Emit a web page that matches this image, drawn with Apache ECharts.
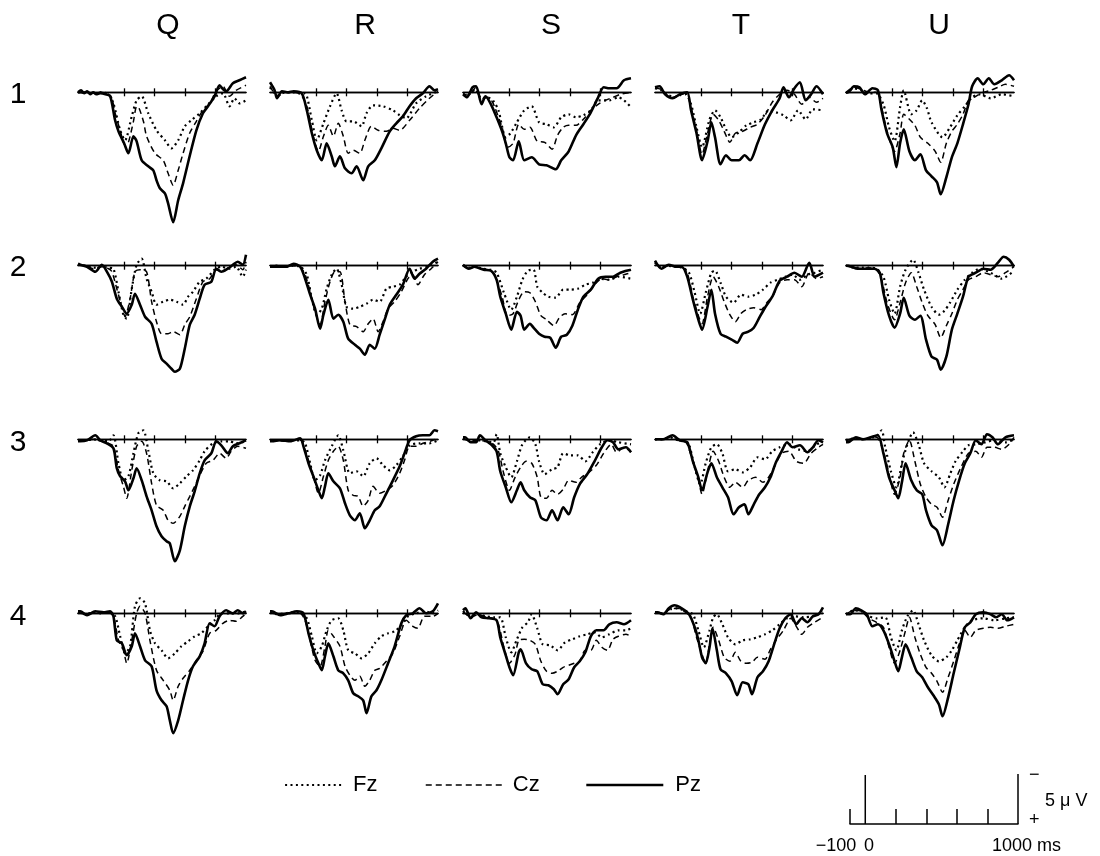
<!DOCTYPE html>
<html>
<head>
<meta charset="utf-8">
<script src="https://cdn.jsdelivr.net/npm/echarts@6/dist/echarts.min.js"></script>
<style>
  html, body { margin: 0; padding: 0; background: #ffffff; }
  #chart { width: 1100px; height: 856px; }
</style>
</head>
<body>
<div id="chart"></div>
<script>
// Grand-average ERP waveforms: 4 blocks x 5 conditions, electrodes Fz / Cz / Pz.
// Time in ms (-100 .. 1000), amplitude in microvolts (negative plotted upward).
const conditions = ['Q', 'R', 'S', 'T', 'U'];
const blocks = ['1', '2', '3', '4'];
const electrodes = ['Fz', 'Cz', 'Pz'];
const baselineTicks = [200, 400, 600, 800];
const scaleTicks = [-100, 200, 400, 600, 800];

// ---- block 1 ----
const Q1_Pz = [[-100,0],[-80,-0.2],[-60,0.1],[-40,-0.1],[-20,0.2],[0,0],[20,0.2],[46,0.1],[80,0.2],[111,0.4],[143,2.8],[165,3.9],[202,5.1],[230,6.1],[263,4.4],[284,4.9],[317,6.8],[360,7.4],[393,7.8],[414,8.8],[436,9.6],[469,10.1],[490,11.1],[523,13.0],[556,10.8],[588,9.1],[631,6.4],[675,3.8],[718,2.1],[751,1.4],[794,0.4],[827,-0.7],[850,-0.3],[870,-0.1],[914,-0.9],[957,-1.2],[1000,-1.5]];
const Q1_Cz = [[-100,0],[-50,0.1],[0,0.1],[50,0],[100,0.2],[122,0.6],[143,2.1],[176,3.8],[208,5.3],[230,5.0],[263,2.9],[284,1.4],[300,1.6],[330,3.0],[349,4.4],[404,6.1],[458,6.8],[490,8.1],[523,9.3],[556,7.8],[588,6.1],[631,4.1],[675,2.9],[718,1.8],[762,1.1],[805,-0.1],[849,-0.6],[892,0.4],[935,-0.2],[1000,-0.7]];
const Q1_Fz = [[-100,0],[-50,0],[0,0.1],[50,0],[100,0.2],[132,1.1],[176,3.8],[208,4.8],[252,2.4],[284,0.8],[317,0.4],[360,2.1],[414,3.8],[469,4.8],[512,5.6],[556,4.8],[599,3.4],[642,2.8],[697,2.1],[740,1.4],[805,0.4],[849,0.1],[892,1.4],[925,0.6],[957,1.1],[1000,0.8]];

const R1_Pz = [[-100,-1.0],[-70,-0.2],[-54,0.6],[-22,-0.1],[20,0],[54,-0.1],[108,0.1],[141,1.8],[174,4.1],[206,5.8],[239,6.8],[271,5.1],[304,6.4],[325,7.4],[358,6.4],[391,7.6],[434,8.1],[467,7.4],[510,8.8],[543,7.4],[586,6.8],[629,5.6],[684,3.9],[727,3.1],[770,2.4],[814,1.4],[857,0.6],[901,0.1],[944,-0.6],[977,-0.2],[1000,-0.3]];
const R1_Cz = [[-100,-0.6],[-50,0.4],[0,0],[50,0],[100,0.2],[141,1.4],[184,4.4],[217,5.9],[250,4.4],[282,3.3],[315,4.4],[347,3.1],[380,4.4],[412,6.1],[445,5.8],[488,6.1],[521,4.8],[564,3.4],[608,3.8],[662,3.9],[705,3.6],[749,3.8],[814,2.8],[879,1.6],[944,0.6],[1000,-0.1]];
const R1_Fz = [[-100,-0.5],[-50,0.3],[0,0],[50,0],[100,0.1],[130,0.1],[174,2.8],[206,4.8],[250,3.1],[293,1.4],[336,0.1],[369,1.8],[401,2.9],[445,2.9],[499,3.4],[532,2.1],[575,1.3],[640,1.4],[705,1.8],[749,2.3],[792,2.6],[857,1.1],[922,0.4],[1000,-0.1]];

const S1_Pz = [[-100,0.2],[-74,0.5],[-38,-0.5],[-14,-0.6],[22,1.2],[47,0.4],[83,1.2],[120,2.5],[156,3.9],[180,5.1],[204,6.5],[228,6.8],[265,4.9],[301,6.8],[350,6.5],[398,7.2],[447,7.3],[507,7.7],[543,6.8],[592,5.9],[640,4.3],[688,3.2],[737,2.0],[785,0.5],[821,-0.5],[858,-0.4],[906,-0.4],[954,-1.2],[1000,-1.4]];
const S1_Cz = [[-100,0.2],[-60,0.3],[-20,-0.4],[20,0.7],[60,0.5],[90,0.9],[108,1.5],[156,3.5],[192,5.5],[228,5.1],[265,3.2],[301,3.7],[338,3.5],[386,4.9],[435,5.0],[483,5.7],[519,4.3],[556,3.5],[592,3.3],[640,3.3],[688,2.7],[737,1.8],[785,1.2],[833,0.8],[882,0.5],[930,0.2],[1000,0]];
const S1_Fz = [[-100,0.2],[-60,0.2],[-20,-0.3],[20,0.6],[60,0.5],[100,0.9],[132,1.8],[180,4.5],[210,4.1],[253,3.0],[301,1.8],[350,1.4],[398,3.0],[447,3.2],[495,3.5],[543,2.5],[592,2.2],[640,2.5],[688,2.3],[737,1.8],[785,0.8],[858,0.8],[918,0.5],[954,0.8],[1000,1.5]];

const T1_Pz = [[-100,-0.5],[-70,-0.6],[-34,0.2],[15,0.6],[63,0.2],[111,0],[136,1.8],[172,4.1],[208,6.8],[244,4.9],[269,3.0],[293,4.5],[329,7.2],[365,6.3],[402,6.8],[450,6.8],[486,6.3],[523,6.8],[571,5.1],[620,3.2],[668,1.8],[716,0.6],[741,-0.5],[777,0.5],[813,-0.4],[849,-1.0],[886,0.8],[922,0.2],[958,-0.6],[1000,0.2]];
const T1_Cz = [[-100,-0.4],[-60,-0.3],[-20,0.3],[20,0.5],[60,0.3],[100,0.1],[136,1.5],[172,3.9],[208,6.2],[244,4.1],[281,2.2],[317,2.8],[353,3.9],[390,5.0],[426,4.1],[474,3.9],[523,3.5],[571,3.2],[620,2.3],[668,1.0],[716,0.2],[765,-0.2],[813,0.2],[861,1.2],[910,0.5],[958,1.0],[1000,0.6]];
const T1_Fz = [[-100,-0.4],[-60,-0.2],[-20,0.2],[20,0.5],[60,0.3],[100,0.2],[136,1.2],[172,3.5],[208,5.5],[257,2.7],[293,1.8],[329,2.5],[365,3.7],[402,4.5],[450,4.0],[498,3.3],[547,3.0],[595,2.7],[644,1.8],[692,2.0],[741,2.3],[789,2.8],[837,1.8],[886,2.7],[934,1.7],[1000,1.8]];

const U1_Pz = [[-100,0],[-85,0],[-48,-0.6],[-12,-0.5],[24,0.2],[73,-0.4],[109,-0.2],[133,1.8],[169,4.1],[206,5.5],[230,7.5],[254,5.1],[278,3.7],[315,5.9],[351,6.8],[387,6.2],[424,7.8],[460,8.4],[496,9.0],[520,10.2],[557,8.5],[593,6.5],[629,5.1],[666,3.2],[702,1.2],[726,-0.6],[762,-1.4],[799,-0.8],[835,-1.4],[871,-0.8],[920,-1.2],[968,-1.7],[1000,-1.2]];
const U1_Cz = [[-100,0],[-50,-0.5],[0,-0.3],[50,0],[100,0],[133,1.5],[169,3.9],[218,5.9],[254,4.1],[278,2.2],[315,2.7],[351,3.3],[387,4.5],[436,5.1],[484,5.9],[520,7.0],[557,5.1],[593,3.9],[629,3.2],[666,2.2],[702,0.8],[750,0.4],[799,0],[847,-0.2],[895,-0.5],[944,-0.8],[1000,-0.6]];
const U1_Fz = [[-100,0.1],[-50,-0.4],[0,-0.2],[50,0.1],[100,0.1],[145,1.2],[182,3.5],[218,4.9],[254,1.5],[278,-0.2],[327,2.2],[363,1.8],[399,0.8],[430,1.6],[460,3.0],[532,4.5],[581,3.5],[629,2.3],[678,1.4],[726,0.5],[775,0.2],[847,0.6],[920,0.2],[1000,0.4]];

// ---- block 2 ----
const Q2_Pz = [[-100,-0.2],[-85,-0.1],[-41,0.1],[13,0.6],[56,-0.1],[89,0.6],[122,1.6],[154,3.3],[187,4.1],[219,4.8],[252,3.9],[273,2.8],[306,3.9],[339,5.1],[382,5.8],[414,7.6],[447,9.3],[480,9.8],[512,10.3],[534,10.6],[567,10.3],[599,8.3],[632,5.9],[664,4.9],[697,3.3],[729,1.9],[773,1.6],[805,0.3],[838,0.6],[881,0.3],[914,-0.1],[946,-0.4],[979,-0.1],[1000,-1.1]];
const Q2_Cz = [[-100,-0.1],[-50,0],[0,0.3],[50,0.1],[100,0.3],[122,0.6],[154,2.3],[187,4.1],[208,5.1],[241,3.3],[273,0.6],[306,0.4],[349,0.6],[382,3.6],[414,5.6],[447,6.8],[490,6.8],[523,6.6],[567,6.9],[599,5.9],[632,5.1],[675,3.3],[718,1.6],[762,1.3],[805,0.4],[849,0.6],[892,0.1],[935,-0.1],[979,0.4],[1000,-0.4]];
const Q2_Fz = [[-100,-0.1],[-50,0],[0,0.2],[50,0.1],[100,0.2],[132,0.3],[165,2.6],[197,4.9],[219,5.3],[252,2.3],[284,-0.1],[317,-0.7],[349,1.3],[382,2.6],[414,3.9],[458,3.6],[501,3.4],[545,3.6],[588,3.9],[621,3.1],[653,2.6],[697,1.6],[740,1.3],[794,0.4],[838,0.1],[892,0.3],[935,0.1],[979,1.1],[1000,0.4]];

const R2_Pz = [[-100,0.1],[-87,0.1],[-43,0.1],[11,0.1],[54,-0.2],[98,0.1],[130,1.3],[163,2.9],[195,4.3],[228,6.3],[250,4.9],[282,3.4],[315,5.3],[347,4.9],[380,5.6],[412,7.3],[456,7.9],[488,8.3],[521,8.9],[553,7.9],[586,8.3],[618,6.9],[651,5.4],[684,3.9],[727,2.9],[770,1.9],[814,0.3],[846,1.3],[879,0.8],[922,0.3],[966,-0.4],[1000,-0.7]];
const R2_Cz = [[-100,0.1],[-50,0.1],[0,0.1],[50,0],[100,0.2],[130,0.9],[163,2.6],[195,4.6],[228,5.9],[260,3.6],[293,1.6],[325,0.6],[358,0.6],[391,3.6],[423,5.9],[467,6.1],[510,6.6],[543,5.8],[575,5.3],[608,6.6],[640,5.6],[673,4.3],[716,3.6],[760,2.6],[803,1.3],[835,0.9],[868,1.9],[911,0.9],[955,0.3],[1000,-0.4]];
const R2_Fz = [[-100,0.1],[-50,0],[0,0.1],[50,0],[100,0.1],[141,0.9],[174,3.3],[206,4.9],[239,4.3],[271,2.3],[304,0.9],[336,0.3],[369,1.9],[401,4.1],[445,4.3],[488,4.1],[532,3.8],[575,3.4],[618,3.6],[662,2.3],[705,2.1],[749,1.9],[792,1.1],[835,0.6],[879,0.3],[933,0.1],[1000,-0.4]];

const S2_Pz = [[-100,-0.1],[-62,0.3],[-26,0.1],[35,0.4],[83,0.5],[120,1.4],[144,3.1],[180,4.8],[216,6.4],[253,4.6],[277,5.0],[301,6.4],[338,5.8],[362,6.2],[398,6.8],[434,7.1],[471,7.2],[507,8.2],[543,7.1],[580,6.9],[616,6.0],[652,4.4],[688,3.1],[737,2.4],[785,1.3],[833,1.1],[882,1.1],[930,0.7],[1000,0.4]];
const S2_Cz = [[-100,0],[-60,0.3],[-20,0.1],[30,0.3],[80,0.5],[108,0.9],[156,3.1],[192,5.0],[228,4.8],[265,3.4],[301,2.6],[338,2.7],[374,3.6],[410,5.0],[447,5.4],[495,6.0],[531,5.2],[568,4.8],[616,4.9],[664,3.7],[713,2.9],[761,1.9],[809,1.3],[858,1.4],[906,1.1],[954,0.9],[1000,0.7]];
const S2_Fz = [[-100,0],[-60,0.2],[-20,0.1],[30,0.3],[80,0.4],[120,0.7],[168,2.7],[216,4.4],[253,3.1],[289,1.4],[325,0.5],[362,0.4],[386,2.1],[422,2.7],[459,3.1],[507,3.2],[556,2.4],[604,2.4],[652,2.3],[701,1.9],[749,1.7],[797,1.3],[858,1.4],[918,1.1],[1000,1.3]];

const T2_Pz = [[-100,-0.5],[-58,0.3],[-10,-0.1],[39,0.1],[75,0.1],[111,1.1],[148,3.4],[184,5.4],[208,6.4],[244,4.1],[269,2.4],[293,4.8],[329,6.8],[365,7.1],[402,7.4],[438,7.7],[474,6.8],[511,6.6],[547,6.2],[583,5.2],[620,4.2],[668,3.1],[716,1.5],[765,1.1],[813,0.7],[861,1.1],[910,-0.3],[946,1.1],[1000,0.7]];
const T2_Cz = [[-100,-0.4],[-60,0.2],[-20,0],[30,0.1],[80,0.2],[111,0.7],[148,3.1],[184,5.0],[208,5.8],[244,3.1],[281,1.1],[317,2.1],[353,3.6],[390,4.9],[426,5.6],[462,4.8],[498,4.4],[547,4.2],[595,4.4],[632,3.7],[668,3.1],[716,1.7],[765,1.4],[813,1.4],[861,2.1],[910,0.7],[958,1.3],[1000,1.1]];
const T2_Fz = [[-100,-0.3],[-60,0.2],[-20,0],[30,0.1],[80,0.2],[123,0.7],[160,2.7],[196,4.8],[232,2.7],[269,0.7],[293,0.5],[329,1.7],[365,3.1],[414,3.7],[462,2.9],[511,3.1],[559,2.9],[607,2.4],[656,1.7],[704,1.4],[753,1.1],[801,0.9],[849,1.4],[898,0.9],[946,0.7],[1000,0.4]];

const U2_Pz = [[-100,0],[-85,0],[-24,0.3],[24,0.3],[85,0.3],[121,0.7],[145,2.7],[182,5.0],[218,6.2],[254,4.8],[278,3.2],[315,5.0],[351,5.4],[387,5.0],[424,7.4],[460,9.1],[496,9.4],[520,10.4],[557,9.1],[593,6.4],[629,4.8],[666,3.1],[702,1.1],[750,0.7],[799,0.3],[847,0.4],[895,-0.3],[932,-0.9],[968,-0.6],[1000,0.1]];
const U2_Cz = [[-100,0],[-50,0.2],[0,0.3],[50,0.2],[100,0.4],[133,1.4],[169,3.7],[218,5.4],[254,3.7],[290,1.7],[327,0.7],[363,2.1],[399,3.7],[436,5.0],[484,5.9],[520,7.2],[557,6.0],[593,4.8],[629,3.4],[666,2.4],[702,1.4],[750,1.1],[799,0.7],[847,0.9],[895,1.1],[944,0.7],[1000,0.1]];
const U2_Fz = [[-100,0],[-50,0.2],[0,0.2],[50,0.2],[100,0.3],[145,1.1],[182,3.4],[218,4.8],[254,2.1],[290,0.4],[339,-0.6],[375,0.7],[411,2.4],[460,4.1],[508,4.9],[545,4.5],[581,3.7],[629,2.4],[678,1.4],[726,0.7],[775,0.3],[847,0.7],[920,1.3],[1000,0.5]];

// ---- block 3 ----
const Q3_Pz = [[-100,0.2],[-85,0.2],[-41,0.1],[13,-0.4],[46,0.1],[89,0.4],[132,0.9],[154,2.9],[176,3.7],[208,4.2],[230,5.1],[263,3.9],[284,2.9],[317,4.1],[349,5.7],[382,7.1],[414,8.7],[447,9.7],[480,10.2],[501,10.4],[534,12.2],[567,11.1],[599,8.7],[632,6.7],[664,5.2],[697,3.4],[729,2.1],[773,1.4],[805,0.2],[838,0.6],[881,1.4],[914,0.7],[957,0.4],[1000,0.1]];
const Q3_Cz = [[-100,0.2],[-50,0.1],[0,0],[50,0.2],[100,0.4],[132,0.7],[165,3.1],[197,4.7],[219,5.9],[252,3.1],[284,0.7],[317,0.2],[349,1.4],[382,4.4],[414,6.6],[458,7.1],[490,8.1],[523,8.4],[567,7.7],[599,6.7],[632,5.7],[664,4.7],[697,3.6],[740,2.4],[784,2.1],[827,1.4],[870,1.9],[903,1.2],[946,0.7],[1000,0.9]];
const Q3_Fz = [[-100,0.1],[-50,0.1],[0,0],[50,0.1],[100,0.2],[132,-0.4],[165,2.4],[197,4.1],[230,3.7],[263,1.4],[295,-0.6],[328,-0.9],[360,1.1],[393,3.4],[436,4.1],[480,4.2],[523,4.9],[567,4.4],[610,3.7],[653,3.1],[697,2.1],[729,1.2],[784,0.4],[838,0.2],[892,0.2],[935,0.4],[1000,0.2]];

const R3_Pz = [[-100,0.2],[-87,0.2],[-33,0.1],[33,0.2],[98,-0.1],[119,0.7],[152,2.4],[184,3.7],[217,5.1],[239,5.9],[260,4.7],[282,3.4],[315,4.2],[358,4.9],[391,6.4],[423,7.6],[456,8.1],[488,7.4],[521,8.9],[553,8.1],[586,7.1],[618,6.7],[662,5.4],[705,4.1],[749,2.7],[781,1.4],[814,0.1],[857,-0.3],[901,-0.4],[944,-0.4],[977,-0.9],[1000,-0.8]];
const R3_Cz = [[-100,0.2],[-50,0.1],[0,0.2],[50,0.1],[100,0.1],[119,0.6],[152,2.1],[184,3.7],[217,5.4],[250,3.7],[282,2.1],[315,1.2],[347,0.7],[380,2.1],[412,5.1],[445,5.6],[477,5.7],[510,6.7],[543,6.1],[575,4.7],[618,5.4],[662,5.1],[705,4.6],[749,3.4],[781,2.1],[814,0.7],[857,0.7],[901,0.4],[966,0.1],[1000,-0.1]];
const R3_Fz = [[-100,0.1],[-50,0.1],[0,0.1],[50,0.1],[100,0.1],[130,0.4],[163,2.4],[195,4.1],[228,3.6],[260,2.1],[304,0.7],[347,-0.4],[380,1.1],[423,3.4],[467,3.2],[510,3.7],[553,2.4],[597,1.9],[640,2.6],[684,3.1],[727,2.6],[770,1.7],[814,0.6],[879,0.4],[944,0.4],[1000,0.1]];

const S3_Pz = [[-100,-0.2],[-86,-0.2],[-50,0.3],[-14,0.3],[11,-0.4],[47,0.1],[83,0.5],[120,1.2],[144,3.2],[180,4.8],[216,6.3],[253,5.1],[277,4.3],[301,5.1],[338,5.8],[374,6.1],[410,7.8],[447,8.1],[483,7.1],[519,8.1],[556,6.8],[592,7.5],[628,5.8],[664,4.5],[713,3.5],[761,2.2],[809,0.8],[846,0.1],[882,0.3],[918,1.0],[967,0.8],[1000,1.3]];
const S3_Cz = [[-100,-0.1],[-50,0.2],[0,0.1],[50,0.2],[100,0.5],[132,1.2],[168,3.5],[204,5.1],[241,3.8],[277,2.8],[313,2.2],[350,2.4],[386,3.8],[410,5.8],[447,5.9],[483,5.1],[519,5.5],[556,5.0],[592,4.1],[640,4.3],[676,3.8],[725,3.3],[773,2.6],[821,1.4],[870,0.5],[906,1.3],[954,0.8],[1000,1.3]];
const S3_Fz = [[-100,-0.1],[-50,0.2],[0,0.1],[50,0.2],[100,0.3],[120,-0.5],[144,1.4],[180,2.8],[216,3.8],[253,2.2],[289,0.5],[338,-0.2],[374,0.5],[398,2.2],[435,3.5],[483,3.0],[519,2.8],[556,1.4],[604,1.6],[652,1.6],[701,2.2],[749,1.3],[797,0.5],[858,0.1],[918,0.3],[1000,0.5]];

const T3_Pz = [[-100,0],[-46,0],[15,-0.4],[63,0.1],[111,0.3],[148,2.2],[184,3.8],[208,5.1],[244,3.3],[269,2.4],[305,3.8],[341,4.8],[378,5.8],[414,7.5],[450,6.8],[486,6.5],[511,7.5],[547,6.5],[583,5.5],[620,4.8],[656,3.8],[692,2.3],[729,1.2],[765,0.3],[801,0.8],[849,0.6],[898,1.3],[934,0.8],[970,0.1],[1000,0.3]];
const T3_Cz = [[-100,0],[-50,0],[0,-0.2],[50,0.1],[90,0.2],[111,0.5],[148,2.2],[184,4.1],[208,5.5],[244,3.2],[281,1.2],[317,2.2],[353,3.8],[390,4.8],[426,4.3],[474,4.8],[511,4.1],[559,3.8],[607,4.3],[644,3.8],[680,2.8],[729,1.4],[777,1.2],[825,2.2],[874,2.4],[922,1.4],[970,0.8],[1000,0.5]];
const T3_Fz = [[-100,0],[-50,0],[0,-0.2],[50,0.1],[100,0.2],[123,0.5],[160,2.8],[196,4.5],[232,2.4],[269,0.8],[305,0.5],[341,1.4],[378,3.2],[426,3.0],[474,3.3],[523,2.8],[571,1.8],[620,2.0],[668,1.2],[716,0.8],[777,0.5],[837,1.0],[898,1.2],[958,0.5],[1000,0.3]];

const U3_Pz = [[-100,0.3],[-85,0.3],[-36,-0.2],[12,0],[61,-0.2],[109,-0.4],[145,1.4],[182,3.8],[218,5.1],[242,5.9],[266,4.3],[290,2.4],[327,4.1],[363,5.1],[399,5.5],[424,7.1],[460,8.6],[496,9.1],[532,10.6],[569,8.5],[605,6.1],[641,4.1],[678,2.4],[714,1.4],[750,0.1],[787,0.5],[823,-0.5],[859,-0.2],[895,0.5],[944,-0.2],[1000,-0.4]];
const U3_Cz = [[-100,0.2],[-50,-0.1],[0,0],[50,-0.1],[100,-0.2],[145,1.2],[182,3.5],[218,5.5],[254,3.8],[278,1.4],[315,0.1],[351,2.2],[387,4.5],[424,5.8],[460,6.5],[496,6.8],[532,7.8],[569,6.1],[605,4.5],[653,2.8],[702,1.4],[750,1.2],[787,1.8],[823,0.8],[871,0.8],[920,1.0],[968,0.5],[1000,-0.2]];
const U3_Fz = [[-100,0.2],[-50,-0.1],[0,0],[50,-0.1],[100,-0.3],[133,-0.9],[157,0.8],[194,3.2],[230,4.8],[266,2.4],[302,0.5],[339,-0.7],[375,0.5],[411,2.4],[460,3.2],[508,3.8],[545,4.8],[581,3.5],[617,2.2],[666,1.2],[702,0.6],[750,0.5],[811,0.3],[871,0.1],[944,0.3],[1000,0]];

// ---- block 4 ----
const Q4_Pz = [[-100,-0.2],[-85,-0.2],[-41,0.2],[13,-0.2],[67,-0.1],[111,-0.2],[132,0.3],[154,2.7],[187,3.0],[219,4.2],[252,3.3],[273,2.0],[306,3.3],[339,4.7],[382,5.3],[414,7.7],[447,8.7],[480,9.3],[501,10.7],[523,12.0],[556,10.7],[588,8.7],[621,6.7],[653,5.3],[697,4.3],[729,3.0],[762,1.0],[794,1.3],[827,0.3],[870,-0.3],[914,0],[946,-0.3],[979,0],[1000,-0.2]];
const Q4_Cz = [[-100,-0.1],[-50,0.1],[0,-0.1],[50,0],[100,-0.1],[132,0.3],[165,2.7],[197,3.7],[219,5.0],[252,2.7],[284,0],[306,-0.7],[339,0],[371,2.7],[414,5.7],[458,6.7],[501,7.7],[523,8.7],[556,7.3],[588,6.5],[632,5.7],[675,4.7],[718,3.8],[762,2.0],[805,1.7],[849,1.0],[892,0.7],[935,0.8],[979,0.3],[1000,0]];
const Q4_Fz = [[-100,-0.1],[-50,0.1],[0,-0.1],[50,0],[100,-0.1],[143,0.3],[176,2.3],[208,4.0],[241,3.3],[273,-0.7],[306,-1.5],[339,-1.0],[371,1.7],[404,3.0],[447,3.7],[490,4.5],[534,4.0],[577,3.3],[621,2.8],[664,2.3],[708,2.0],[751,1.3],[794,0.7],[838,0],[892,0],[946,0],[1000,-0.2]];

const R4_Pz = [[-100,-0.2],[-87,-0.2],[-33,0.2],[22,0],[76,-0.2],[119,0],[152,2.0],[184,3.7],[217,5.0],[239,5.7],[260,4.3],[282,3.0],[315,4.3],[347,5.7],[380,6.0],[412,6.7],[445,8.0],[477,8.3],[510,8.7],[532,10.0],[564,8.3],[597,7.7],[629,6.7],[673,5.0],[716,3.3],[760,1.0],[792,0.2],[835,0],[879,-0.5],[922,0],[966,-0.2],[1000,-1.0]];
const R4_Cz = [[-100,-0.1],[-50,0.1],[0,0],[50,-0.1],[100,0],[130,0.7],[163,2.7],[195,4.7],[228,5.3],[260,3.3],[282,1.7],[315,2.3],[358,3.3],[391,5.3],[423,6.2],[456,6.7],[488,6.3],[521,7.3],[553,6.7],[586,5.7],[618,5.5],[662,4.8],[705,4.0],[749,2.3],[792,0.7],[835,1.3],[868,1.5],[911,0.3],[966,0.3],[1000,0]];
const R4_Fz = [[-100,-0.1],[-50,0.1],[0,0],[50,-0.1],[100,0],[141,0.5],[174,2.3],[206,4.0],[239,3.3],[271,1.7],[304,0.7],[347,0.5],[380,1.7],[412,3.7],[456,4.0],[499,4.5],[543,4.0],[586,3.0],[629,2.3],[673,2.0],[716,1.8],[760,1.2],[803,0.3],[857,0],[911,-0.2],[966,0],[1000,-0.3]];

const S4_Pz = [[-100,-0.3],[-84,-0.5],[-50,0.5],[-14,-0.1],[22,0.4],[71,0.5],[120,0.7],[144,2.4],[180,4.2],[204,5.4],[228,6.2],[265,3.9],[277,3.6],[313,5.0],[350,5.6],[386,5.8],[422,7.1],[459,7.2],[495,7.6],[519,8.1],[556,7.1],[592,6.6],[628,5.4],[664,4.8],[701,3.9],[737,2.3],[773,1.7],[821,1.7],[858,1.1],[906,0.9],[954,1.1],[1000,0.7]];
const S4_Cz = [[-100,-0.2],[-50,0.4],[0,0.1],[50,0.4],[100,0.5],[132,1.1],[168,3.4],[204,5.0],[241,4.1],[265,2.7],[301,2.6],[338,2.7],[374,3.1],[410,4.8],[447,5.8],[483,6.0],[519,5.8],[556,5.4],[592,5.2],[628,5.0],[664,4.8],[701,3.7],[737,3.7],[773,2.7],[809,3.4],[846,3.7],[882,2.6],[918,2.3],[967,2.1],[1000,2.3]];
const S4_Fz = [[-100,-0.2],[-50,0.3],[0,0.1],[50,0.3],[100,0.4],[144,0.4],[180,2.4],[216,3.9],[253,2.6],[289,1.4],[325,0.9],[350,0.1],[386,1.5],[422,3.1],[471,3.2],[519,3.7],[568,2.9],[616,2.6],[664,2.3],[713,2.1],[761,1.9],[809,2.4],[858,2.1],[918,1.7],[967,1.7],[1000,1.5]];

const T4_Pz = [[-100,-0.1],[-82,-0.1],[-46,0.1],[-10,-0.5],[27,-0.8],[75,-0.5],[123,0.1],[160,1.4],[184,2.7],[208,4.4],[232,5.0],[257,3.4],[276,1.5],[305,3.7],[329,5.6],[365,6.0],[402,6.8],[438,8.2],[474,6.9],[511,7.1],[535,8.1],[571,6.4],[607,5.8],[644,4.8],[680,3.1],[716,1.5],[753,0.5],[789,0.1],[825,1.1],[861,0.5],[898,0.9],[934,0.3],[970,0.1],[1000,-0.6]];
const T4_Cz = [[-100,-0.1],[-50,0],[0,-0.4],[50,-0.5],[100,-0.1],[136,0.4],[172,2.4],[208,4.1],[232,5.0],[257,3.1],[281,1.4],[317,2.7],[353,4.4],[390,4.8],[426,3.9],[462,4.8],[498,5.0],[535,4.9],[571,4.4],[620,4.6],[656,3.6],[692,2.7],[741,1.7],[789,0.5],[825,1.3],[861,2.1],[898,1.4],[946,0.9],[1000,0.4]];
const T4_Fz = [[-100,-0.1],[-50,0],[0,-0.4],[50,-0.5],[100,-0.2],[148,0.1],[184,1.7],[220,3.4],[257,1.7],[281,0.4],[305,0.1],[341,1.1],[378,2.4],[426,3.1],[474,2.7],[523,2.6],[571,2.4],[620,2.1],[668,1.7],[716,1.1],[765,0.5],[813,0.3],[874,0.4],[934,0.3],[1000,-0.1]];

const U4_Pz = [[-100,0.1],[-73,0.1],[-36,-0.5],[0,-0.3],[36,0.1],[73,1.3],[109,1.1],[145,1.7],[182,3.1],[218,4.8],[242,5.8],[266,4.4],[290,3.1],[327,4.4],[363,5.8],[399,6.4],[436,7.4],[472,8.2],[508,9.1],[532,10.3],[569,8.4],[605,6.0],[641,3.7],[678,1.4],[714,0.9],[750,0.1],[799,-0.1],[847,0.1],[883,0.4],[920,0.1],[956,0.7],[1000,0.4]];
const U4_Cz = [[-100,0.1],[-50,-0.3],[0,-0.2],[50,0.5],[100,0.9],[145,1.4],[182,3.4],[218,5.0],[254,3.7],[290,1.7],[315,0.4],[351,2.4],[387,4.1],[424,5.4],[460,6.0],[496,6.8],[532,7.9],[569,6.4],[605,4.8],[641,3.1],[678,1.7],[714,2.4],[750,1.7],[799,1.5],[847,1.4],[895,1.5],[944,1.3],[1000,1.1]];
const U4_Fz = [[-100,0.1],[-50,-0.3],[0,-0.2],[50,0.3],[100,0.5],[157,0.4],[194,2.4],[230,3.7],[266,1.7],[302,0.3],[339,-0.3],[375,1.1],[411,2.7],[460,4.2],[508,4.8],[557,4.4],[593,3.7],[629,2.7],[678,1.4],[726,0.7],[799,0.5],[871,0.7],[944,0.5],[1000,0.4]];

// waveforms per panel, electrode order Fz, Cz, Pz
const waves = {
  Q1: [Q1_Fz, Q1_Cz, Q1_Pz], R1: [R1_Fz, R1_Cz, R1_Pz], S1: [S1_Fz, S1_Cz, S1_Pz], T1: [T1_Fz, T1_Cz, T1_Pz], U1: [U1_Fz, U1_Cz, U1_Pz],
  Q2: [Q2_Fz, Q2_Cz, Q2_Pz], R2: [R2_Fz, R2_Cz, R2_Pz], S2: [S2_Fz, S2_Cz, S2_Pz], T2: [T2_Fz, T2_Cz, T2_Pz], U2: [U2_Fz, U2_Cz, U2_Pz],
  Q3: [Q3_Fz, Q3_Cz, Q3_Pz], R3: [R3_Fz, R3_Cz, R3_Pz], S3: [S3_Fz, S3_Cz, S3_Pz], T3: [T3_Fz, T3_Cz, T3_Pz], U3: [U3_Fz, U3_Cz, U3_Pz],
  Q4: [Q4_Fz, Q4_Cz, Q4_Pz], R4: [R4_Fz, R4_Cz, R4_Pz], S4: [S4_Fz, S4_Cz, S4_Pz], T4: [T4_Fz, T4_Cz, T4_Pz], U4: [U4_Fz, U4_Cz, U4_Pz]
};

// ---- layout ----
const FONT = '"Liberation Sans", Arial, Helvetica, sans-serif';
const colLeft = [78, 270, 463, 655, 846];     // x of -100 ms in each column
const rowZero = [92.3, 265.7, 439.3, 613.3];  // y of 0 uV in each row
const PANEL_W = 168;
const PX_PER_UV = 10;
const Y_MIN = -4, Y_MAX = 15;
const headerX = [168, 365, 551, 741, 939];
const rowLabelY = [95, 268, 443, 617];

const styleOf = {
  Fz: { color: '#000', width: 2.2, type: [2, 3.4], cap: 'butt' },
  Cz: { color: '#000', width: 1.5, type: [6, 4], cap: 'butt' },
  Pz: { color: '#000', width: 2.6, type: 'solid', join: 'round' }
};

const grid = [], xAxis = [], yAxis = [], series = [];
const axisBlack = { color: '#000', width: 1.3 };

blocks.forEach((b, r) => {
  conditions.forEach((c, k) => {
    const g = grid.length;
    const zeroY = rowZero[r];
    grid.push({
      left: colLeft[k], width: PANEL_W,
      top: zeroY + Y_MIN * PX_PER_UV, height: (Y_MAX - Y_MIN) * PX_PER_UV
    });
    // two zero-lines per panel so the tick marks cross the baseline (up and down)
    ['bottom', 'top'].forEach(pos => {
      xAxis.push({
        gridIndex: g, type: 'value', min: -100, max: 1000, position: pos,
        axisLine: { show: true, onZero: true, lineStyle: axisBlack },
        axisTick: { show: true, customValues: baselineTicks, length: 4, inside: false, lineStyle: axisBlack },
        axisLabel: { show: false }, splitLine: { show: false }
      });
      yAxis.push({ gridIndex: g, type: 'value', inverse: true, min: Y_MIN, max: Y_MAX, show: false });
    });
    const set = waves[c + b];
    electrodes.forEach((e, i) => {
      series.push({
        name: e, type: 'line', xAxisIndex: 2 * g, yAxisIndex: 2 * g,
        data: set[i], symbol: 'none', smooth: 0.25, clip: false,
        lineStyle: styleOf[e], z: 2 + i, silent: true
      });
    });
  });
});

// calibration bar: -100..1000 ms, 5 uV (negative up)
const sg = grid.length;
grid.push({ left: 850, width: 168, top: 774, height: 50 });
xAxis.push({
  gridIndex: sg, type: 'value', min: -100, max: 1000, position: 'bottom',
  axisLine: { show: true, onZero: false, lineStyle: { color: '#000', width: 1.5 } },
  axisTick: { show: true, customValues: scaleTicks, inside: true, length: 15, lineStyle: { color: '#000', width: 1.5 } },
  axisLabel: { show: false }, splitLine: { show: false }
});
yAxis.push({ gridIndex: sg, type: 'value', inverse: true, min: -5, max: 0, show: false });
const scaleOnset = [[0, 0], [0, -4.9]];
const scaleAmp = [[1000, 0], [1000, -5]];
[scaleOnset, scaleAmp].forEach(d => {
  series.push({
    name: 'calibration', type: 'line', xAxisIndex: xAxis.length - 1, yAxisIndex: yAxis.length - 1,
    data: d, symbol: 'none', lineStyle: { color: '#000', width: 1.5 }, silent: true
  });
});

// legend, one block per electrode: [left, line length, text gap]
const legendPos = { Fz: [284, 56, 7], Cz: [425, 78, 4], Pz: [585, 77, 7] };
const legend = electrodes.map(e => ({
  data: [e], left: legendPos[e][0], top: 774, padding: 0,
  itemWidth: legendPos[e][1], itemHeight: 22, selectedMode: false,
  itemStyle: { opacity: 0 },
  lineStyle: { width: styleOf[e].width },
  textStyle: { fontSize: 22, fontFamily: FONT, color: '#000', padding: [0, 0, 0, legendPos[e][2]] }
}));

const graphic = [];
conditions.forEach((c, k) => graphic.push({
  type: 'text', x: headerX[k], y: 26,
  style: { text: c, font: '30px ' + FONT, fill: '#000', textAlign: 'center', textVerticalAlign: 'middle' }
}));
blocks.forEach((b, r) => graphic.push({
  type: 'text', x: 18, y: rowLabelY[r],
  style: { text: b, font: '30px ' + FONT, fill: '#000', textAlign: 'center', textVerticalAlign: 'middle' }
}));
const smallText = (text, x, y, align) => ({
  type: 'text', x, y,
  style: { text, font: '18px ' + FONT, fill: '#000', textAlign: align, textVerticalAlign: 'middle' }
});
graphic.push(smallText('\u2212100', 836, 846, 'center'));
graphic.push(smallText('0', 869, 846, 'center'));
graphic.push(smallText('1000 ms', 992, 846, 'left'));
graphic.push(smallText('\u2212', 1029, 775, 'left'));
graphic.push(smallText('+', 1029, 820, 'left'));
graphic.push(smallText('5 \u03bc V', 1045, 801, 'left'));

const chart = echarts.init(document.getElementById('chart'), null, { renderer: 'canvas' });
chart.setOption({
  backgroundColor: '#ffffff',
  animation: false,
  grid, xAxis, yAxis, series, legend, graphic
});
</script>
</body>
</html>
